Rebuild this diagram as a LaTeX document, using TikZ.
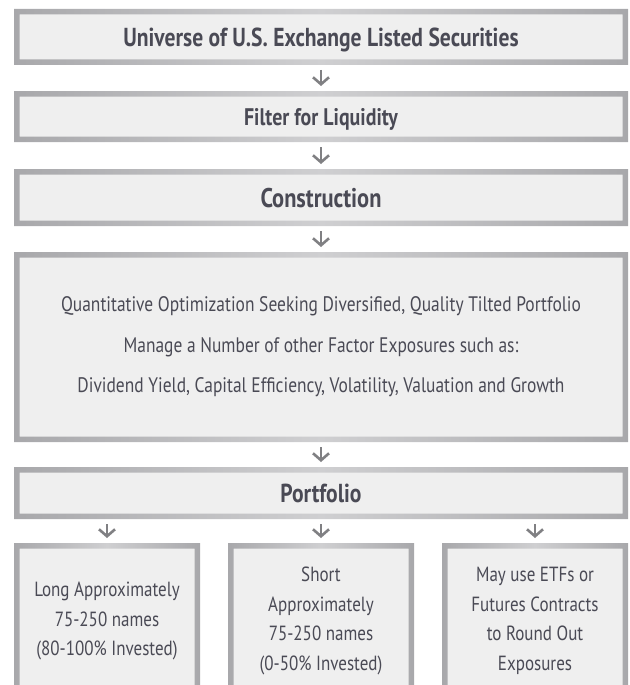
\documentclass[tikz,border=0pt]{standalone}
\usepackage{fontspec}
\setmainfont{PT Sans}[FakeStretch=0.83]
\usepackage{tikz}
\usetikzlibrary{positioning, arrows.meta}
\definecolor{boxfill}{HTML}{EFEFEF}
\definecolor{framegray}{HTML}{A8A8AB}
\definecolor{framelight}{HTML}{CFCFD1}
\definecolor{textgray}{HTML}{4A4A55}
\definecolor{arrowgray}{HTML}{808083}
\tikzset{
  stage/.style={fill=boxfill,text=textgray,inner sep=0,outer sep=0,align=center,minimum width=614pt},
  stage title/.style={stage,text depth=0pt,font={\bfseries\fontsize{26}{30}\selectfont}},
  leaf/.style={stage,minimum width=186pt,minimum height=156pt,font={\fontsize{20.5}{29.5}\selectfont}},
  frame/.style={even odd rule,left color=framegray,right color=framegray,middle color=framelight},
  flow/.style={arrowgray,line width=2.6pt,-{Straight Barb[length=7pt,width=16pt,line width=2.6pt]},shorten <=5pt,shorten >=5pt}
}

\begin{document}
\begin{tikzpicture}[node distance=26pt]
  \useasboundingbox (0,0) rectangle (629pt,-685pt);
  \clip (0,0) rectangle (629pt,-685pt);

  % Screening steps
  \node[stage title,minimum height=56pt] (uni) at (321pt,-37pt) {Universe of U.S. Exchange Listed Securities};
  \node[stage title,minimum height=51pt,font={\bfseries\fontsize{24}{28}\selectfont}, below=of uni] (filter) {Filter for Liquidity};
  \node[stage title,minimum height=57pt,font={\bfseries\fontsize{27}{31}\selectfont}, below=27pt of filter] (constr) {Construction};

  % Optimization
  \node[stage,minimum height=190pt,font={\fontsize{21}{40.5}\selectfont}, below=of constr] (opt)
    {Quantitative Optimization Seeking Diversified, Quality Tilted Portfolio\\
     Manage a Number of other Factor Exposures such as:\\
     Dividend Yield, Capital Efficiency, Volatility, Valuation and Growth};

  % Portfolio
  \node[stage title,minimum height=52pt, below=25pt of opt] (port) {Portfolio};

  % Sleeves
  \node[leaf, below right=24pt and 0pt of port.south west] (long) {Long Approximately\\75-250 names\\(80-100\% Invested)};
  \node[leaf, below=24pt of port] (short) {Short\\Approximately\\75-250 names\\(0-50\% Invested)};
  \node[leaf, below left=24pt and 0pt of port.south east] (etf) {May use ETFs or\\Futures Contracts\\to Round Out\\Exposures};

  % Frames
  \foreach \n in {uni,filter,constr,opt,port,long,short,etf}
    \shade[frame] (\n.north west) rectangle (\n.south east)
      ([shift={(5.5pt,-5.5pt)}]\n.north west) rectangle ([shift={(-5.5pt,5.5pt)}]\n.south east);

  % Arrows
  \draw[flow] (uni) -- (filter);
  \draw[flow] (filter) -- (constr);
  \draw[flow] (constr) -- (opt);
  \draw[flow] (opt) -- (port);
  \foreach \n in {long,short,etf}
    \draw[flow] (port.south -| \n.north) -- (\n.north);

\end{tikzpicture}
\end{document}
